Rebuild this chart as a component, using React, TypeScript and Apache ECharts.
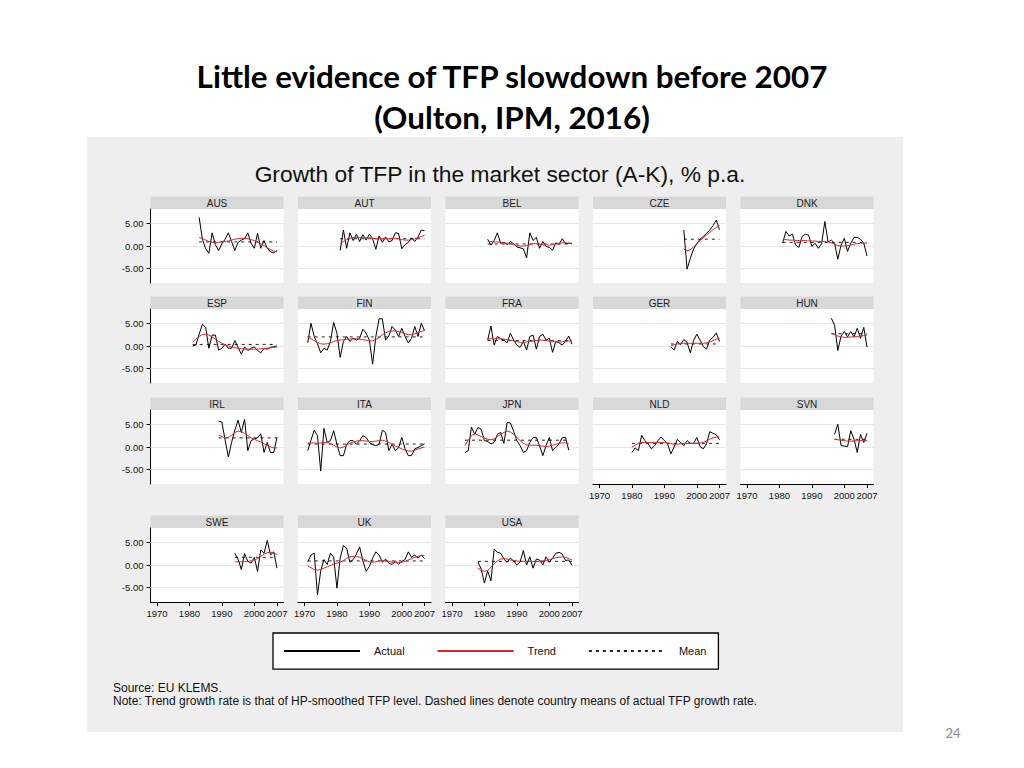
import React, { useEffect, useRef } from "react";
import * as echarts from "echarts";

// ---------- data ----------
const countries = ["AUS","AUT","BEL","CZE","DNK","ESP","FIN","FRA","GER","HUN","IRL","ITA","JPN","NLD","SVN","SWE","UK","USA"];
const firstYear = [1983,1981,1981,1996,1981,1981,1971,1981,1992,1996,1989,1971,1974,1980,1997,1994,1971,1978];
const meanGrowth = [0.9,1.6,0.45,1.5,0.8,0.35,2.0,1.2,0.45,2.7,2.0,0.65,1.5,0.8,1.7,1.7,0.9,0.8];

const actualAUS = [6.3,1.5,-0.6,-1.6,2.9,0.3,-1.0,0.5,1.5,2.9,1.0,-1.0,0.8,1.3,1.6,2.9,0.6,-0.5,2.8,-0.5,1.2,-0.5,-1.3,-1.5,-1.0];
const trendAUS = [1.9,1.6,1.3,1.0,0.8,0.7,0.8,0.9,1.0,1.1,1.3,1.5,1.6,1.7,1.7,1.6,1.4,1.2,0.9,0.5,0.1,-0.4,-0.8,-1.1,-1.3];
const actualAUT = [-1.0,3.5,-0.5,2.9,1.2,2.6,1.0,2.5,1.3,2.6,1.6,-0.7,2.2,0.8,2.0,0.9,1.2,2.9,2.8,-0.6,0.3,0.8,1.8,1.0,2.0,3.5,3.4];
const trendAUT = [0.5,1.0,1.4,1.7,1.9,1.9,1.9,1.8,1.8,1.8,1.7,1.6,1.6,1.6,1.6,1.6,1.7,1.7,1.6,1.4,1.3,1.3,1.4,1.6,1.8,2.1,2.3];
const actualBEL = [1.5,0.2,1.2,2.9,0.6,0.8,0.3,1.0,0.5,-0.2,-0.4,-0.6,-2.6,2.9,1.2,1.9,-0.5,1.0,-0.1,-0.3,-0.9,0.7,0.4,1.6,0.5,0.6,0.6];
const trendBEL = [1.0,1.0,0.9,0.9,0.8,0.7,0.6,0.5,0.3,0.1,0.0,0.0,0.1,0.3,0.5,0.5,0.4,0.3,0.2,0.2,0.3,0.4,0.6,0.7,0.7,0.6,0.5];
const actualCZE = [3.5,-5.1,-2.7,-0.7,0.5,1.5,2.1,2.8,3.5,4.5,5.7,3.6];
const trendCZE = [-0.7,-1.1,-0.8,-0.2,0.5,1.2,1.8,2.4,3.0,3.6,4.1,4.5];
const actualDNK = [0.7,3.2,2.2,2.6,0.2,-0.3,2.1,2.6,2.4,-0.1,0.6,-0.5,0.5,5.4,0.9,1.3,0.6,-2.9,0.2,1.7,-1.2,0.6,1.9,1.9,1.5,0.6,-2.2];
const trendDNK = [1.4,1.4,1.3,1.3,1.2,1.2,1.2,1.2,1.1,1.1,1.1,1.0,1.0,1.0,0.9,0.7,0.4,0.1,0.0,0.0,0.1,0.2,0.4,0.5,0.6,0.6,0.7];
const actualESP = [0.0,0.2,2.6,4.8,4.1,-0.5,2.4,2.4,-0.9,-0.5,0.4,-0.5,-0.5,1.2,-0.3,-1.8,-0.2,-1.0,-0.5,-0.2,-1.0,-1.5,-0.5,-0.7,-0.3,-0.2,0.0];
const trendESP = [0.9,1.5,2.1,2.5,2.6,2.4,2.0,1.5,1.0,0.6,0.3,0.0,-0.2,-0.4,-0.5,-0.6,-0.7,-0.7,-0.7,-0.7,-0.7,-0.6,-0.6,-0.5,-0.4,-0.3,-0.2];
const actualFIN = [0.7,5.0,2.1,0.5,-1.5,-0.5,-0.9,1.0,5.2,2.8,-2.5,1.0,2.1,1.0,1.7,1.3,1.7,3.7,2.8,1.3,-4.0,2.1,6.0,6.0,1.3,2.2,4.3,3.5,2.1,3.9,2.1,0.7,1.7,4.3,2.1,5.0,3.4];
const trendFIN = [2.0,1.6,1.2,0.8,0.5,0.4,0.5,0.7,1.0,1.2,1.3,1.4,1.5,1.5,1.6,1.6,1.5,1.4,1.3,1.1,1.1,1.4,1.9,2.5,2.9,3.2,3.3,3.3,3.2,3.0,2.7,2.5,2.5,2.7,3.0,3.2,3.4];
const actualFRA = [1.3,4.4,0.2,2.1,1.6,1.3,0.7,2.8,1.3,0.2,-0.3,1.0,-0.9,2.1,2.4,-0.7,2.1,2.6,1.3,1.7,-1.4,1.0,0.7,0.2,1.0,2.2,0.4];
const trendFRA = [1.5,1.6,1.6,1.6,1.6,1.5,1.4,1.3,1.1,1.0,0.8,0.8,0.9,1.0,1.1,1.2,1.3,1.3,1.2,1.1,1.0,0.9,0.9,0.9,1.0,1.1,1.1];
const actualGER = [-0.2,-0.9,1.0,0.3,1.4,0.8,-1.5,1.2,2.6,1.3,-0.1,-0.7,1.3,1.9,2.9,1.0];
const trendGER = [0.0,0.3,0.5,0.6,0.6,0.6,0.6,0.6,0.6,0.6,0.6,0.7,0.9,1.2,1.5,1.7];
const actualHUN = [6.1,4.6,-1.0,2.2,3.2,2.0,3.2,2.0,3.9,1.7,4.1,-0.3];
const trendHUN = [2.8,2.5,2.2,2.0,1.9,1.9,2.0,2.0,2.1,2.2,2.3,2.4];
const actualIRL = [5.7,5.5,1.5,-2.2,1.0,3.7,5.9,3.2,6.1,-0.8,1.4,1.8,2.0,2.9,-1.2,1.0,-1.2,-1.2,2.1];
const trendIRL = [2.6,2.3,2.0,2.1,2.6,3.2,3.5,3.4,3.0,2.5,2.0,1.7,1.4,1.1,0.7,0.3,0.0,-0.2,-0.2];
const actualITA = [-0.8,1.5,3.7,2.5,-5.3,4.1,1.0,1.4,3.6,0.6,-1.9,-1.9,0.6,1.4,1.4,0.6,1.4,2.5,2.1,1.0,0.5,0.3,0.6,3.7,3.2,-0.8,0.6,-0.8,-0.2,2.1,-0.4,-1.9,-1.9,-0.4,-0.1,0.3,0.7];
const trendITA = [0.9,0.9,0.9,0.8,0.9,1.0,1.0,0.8,0.4,0.0,-0.2,0.0,0.4,0.8,1.1,1.3,1.4,1.4,1.3,1.2,1.2,1.3,1.4,1.5,1.3,1.0,0.6,0.2,-0.1,-0.4,-0.7,-0.9,-0.9,-0.7,-0.4,-0.2,0.0];
const actualJPN = [-1.2,-0.8,4.4,2.8,4.3,3.9,1.4,1.2,0.7,1.0,2.8,3.2,0.8,5.4,5.3,3.5,1.4,0.3,-1.2,-0.8,1.0,2.1,2.1,0.3,-1.9,0.3,2.1,-0.8,-0.1,0.7,2.1,2.1,-0.7];
const trendJPN = [0.3,1.5,2.5,2.9,2.7,2.3,2.0,1.7,1.6,1.8,2.3,2.8,3.2,3.5,3.3,2.8,2.1,1.4,0.8,0.5,0.4,0.4,0.4,0.3,0.2,0.1,0.2,0.4,0.6,0.8,0.9,0.9,0.7];
const actualNLD = [-1.2,-0.2,-0.8,2.6,1.4,0.7,-0.4,0.3,1.4,2.2,1.4,0.7,-1.5,0.0,1.7,1.0,0.3,1.4,0.8,0.8,2.1,0.1,-0.4,0.7,3.4,3.0,2.7,1.6];
const trendNLD = [0.0,0.4,0.8,1.0,1.0,1.0,1.0,1.0,1.0,1.0,1.0,0.9,0.7,0.6,0.6,0.7,0.7,0.8,0.8,0.8,0.8,0.9,1.0,1.3,1.7,2.0,2.2,2.2];
const actualSVN = [2.8,5.0,0.3,0.2,0.1,3.6,1.7,-1.2,2.8,1.0,3.0];
const trendSVN = [1.7,1.6,1.5,1.4,1.3,1.3,1.3,1.4,1.4,1.4,1.4];
const actualSWE = [2.6,1.3,-1.0,2.5,0.8,0.4,1.7,-1.4,3.3,2.6,5.4,2.2,2.9,-0.7];
const trendSWE = [0.7,0.7,0.7,0.7,0.8,0.9,1.1,1.4,1.9,2.4,2.7,2.8,2.6,2.3];
const actualUK = [0.7,2.2,2.6,-6.6,-1.3,1.2,0.1,2.6,1.7,-5.1,1.5,4.3,3.7,0.6,1.2,2.4,4.0,0.9,-1.4,-0.3,1.5,2.9,2.2,0.6,1.3,0.4,0.1,0.9,0.2,0.8,1.2,2.9,1.7,2.2,1.5,2.2,1.4];
const trendUK = [-0.2,-0.6,-1.0,-1.1,-1.0,-0.7,-0.4,-0.1,0.2,0.4,0.6,1.0,1.5,1.8,1.9,1.9,1.7,1.4,1.0,0.7,0.6,0.7,0.9,1.0,0.9,0.8,0.6,0.5,0.5,0.6,0.8,1.1,1.4,1.7,1.9,2.1,2.1];
const actualUSA = [0.7,-0.9,-4.0,-1.3,-3.5,3.5,2.8,2.6,1.3,0.6,1.5,0.9,0.0,0.7,3.2,0.0,1.8,-0.7,1.3,1.1,0.0,1.8,0.6,1.5,2.6,2.8,2.4,1.0,1.1,-0.1];
const trendUSA = [-0.7,-1.2,-1.4,-1.2,-0.5,0.3,0.9,1.3,1.4,1.3,1.1,1.0,0.9,0.8,0.8,0.8,0.8,0.8,0.8,0.8,0.9,1.0,1.2,1.4,1.6,1.7,1.8,1.7,1.4,1.1];

const actualByCountry = [actualAUS,actualAUT,actualBEL,actualCZE,actualDNK,actualESP,actualFIN,actualFRA,actualGER,actualHUN,actualIRL,actualITA,actualJPN,actualNLD,actualSVN,actualSWE,actualUK,actualUSA];
const trendByCountry = [trendAUS,trendAUT,trendBEL,trendCZE,trendDNK,trendESP,trendFIN,trendFRA,trendGER,trendHUN,trendIRL,trendITA,trendJPN,trendNLD,trendSVN,trendSWE,trendUK,trendUSA];

const xTicks = [1970, 1980, 1990, 2000, 2007];
const yTicks = [-5, 0, 5];
const legendNames = ["Actual", "Trend", "Mean"];

// ---------- layout ----------
const COL_LEFT = [150.5, 298, 445.5, 593, 740.5];
const ROW_TOP = [209, 309, 410, 528];
const PLOT_W = 133;
const PLOT_H = 74;
const HEADER_H = 12.5;
const X_AXIS_PANELS = new Set(["NLD", "SVN", "SWE", "UK", "USA"]);
const RED = "#e1242a";
const SANS = "'Liberation Sans', Arial, sans-serif";
const TITLE_FONT = "Lato, 'Open Sans', sans-serif";

function buildOption() {
  const grid: any[] = [];
  const xAxis: any[] = [];
  const yAxis: any[] = [];
  const series: any[] = [];
  const graphic: any[] = [
    { type: "rect", z: -10, shape: { x: 87, y: 137, width: 816, height: 595 }, style: { fill: "#eeeeee" } },
    { type: "text", x: 512, y: 76, style: { text: "Little evidence of TFP slowdown before 2007", fontFamily: TITLE_FONT, fontWeight: "bold", fontSize: 31.4, fill: "#000", align: "center", verticalAlign: "middle" } },
    { type: "text", x: 512, y: 117, style: { text: "(Oulton, IPM, 2016)", fontFamily: TITLE_FONT, fontWeight: "bold", fontSize: 31.4, fill: "#000", align: "center", verticalAlign: "middle" } },
    { type: "text", x: 500, y: 174, style: { text: "Growth of TFP in the market sector (A-K), % p.a.", fontFamily: SANS, fontSize: 22.8, fill: "#111", align: "center", verticalAlign: "middle" } },
    { type: "text", x: 113, y: 688, style: { text: "Source: EU KLEMS.", fontFamily: SANS, fontSize: 12, fill: "#111", align: "left", verticalAlign: "middle" } },
    { type: "text", x: 113, y: 701, style: { text: "Note: Trend growth rate is that of HP-smoothed TFP level. Dashed lines denote country means of actual TFP growth rate.", fontFamily: SANS, fontSize: 12, fill: "#111", align: "left", verticalAlign: "middle" } },
    { type: "text", x: 953, y: 733, style: { text: "24", fontFamily: TITLE_FONT, fontSize: 13, fill: "#8a8a8a", align: "center", verticalAlign: "middle" } },
  ];

  countries.forEach((name, i) => {
    const row = Math.floor(i / 5);
    const col = i % 5;
    const left = COL_LEFT[col];
    const top = ROW_TOP[row];
    grid.push({ left, top, width: PLOT_W, height: PLOT_H, show: true, backgroundColor: "#ffffff", borderWidth: 0, containLabel: false });
    graphic.push({ type: "rect", shape: { x: left, y: top - HEADER_H, width: PLOT_W, height: HEADER_H }, style: { fill: "#d8d8d8" } });
    graphic.push({ type: "text", x: left + PLOT_W / 2, y: top - HEADER_H / 2 + 0.5, style: { text: name, fontFamily: SANS, fontSize: 10, fill: "#222", align: "center", verticalAlign: "middle" } });

    const showX = X_AXIS_PANELS.has(name);
    xAxis.push({
      type: "value", gridIndex: i, min: 1968, max: 2009,
      show: showX,
      axisLine: { show: true, onZero: false, lineStyle: { color: "#000", width: 1 } },
      axisTick: { show: true, length: 4, customValues: xTicks, lineStyle: { color: "#000" } },
      axisLabel: { show: true, customValues: xTicks, fontSize: 9.5, fontFamily: SANS, color: "#111", margin: 6, formatter: (v: number) => String(v) },
      splitLine: { show: false },
    });
    const showY = col === 0;
    yAxis.push({
      type: "value", gridIndex: i, min: -8.15, max: 8.15,
      show: showY,
      axisLine: { show: true, lineStyle: { color: "#000", width: 1 } },
      axisTick: { show: true, length: 4, customValues: yTicks, lineStyle: { color: "#000" } },
      axisLabel: { show: true, customValues: yTicks, fontSize: 9.5, fontFamily: SANS, color: "#111", margin: 7, formatter: (v: number) => v.toFixed(2) },
      splitLine: { show: false },
    });

    const start = firstYear[i];
    const actual = actualByCountry[i];
    const trend = trendByCountry[i];
    const end = start + actual.length - 1;
    series.push({
      name: "Mean", type: "line", xAxisIndex: i, yAxisIndex: i, symbol: "none", z: 2,
      data: [[start, meanGrowth[i]], [end, meanGrowth[i]]],
      lineStyle: { color: "#222", width: 1, type: [3, 4] },
      itemStyle: { color: "#222" },
      markLine: {
        silent: true, symbol: "none", label: { show: false }, z: 1,
        lineStyle: { color: "#e6e6e6", width: 1, type: "solid" },
        emphasis: { disabled: true },
        data: yTicks.map((v) => ({ yAxis: v })),
      },
    });
    series.push({
      name: "Actual", type: "line", xAxisIndex: i, yAxisIndex: i, symbol: "none", z: 3,
      data: actual.map((v, k) => [start + k, v]),
      lineStyle: { color: "#000", width: 1 },
      itemStyle: { color: "#000" },
    });
    series.push({
      name: "Trend", type: "line", xAxisIndex: i, yAxisIndex: i, symbol: "none", z: 4,
      data: trend.map((v, k) => [start + k, v]),
      lineStyle: { color: RED, width: 1 },
      itemStyle: { color: RED },
    });
  });

  return {
    animation: false,
    backgroundColor: "#ffffff",
    grid, xAxis, yAxis, series, graphic,
    legend: {
      left: 273, top: 633,
      padding: [12.5, 12, 12.5, 10],
      itemWidth: 76, itemHeight: 14, itemGap: 32,
      backgroundColor: "#ffffff", borderColor: "#000", borderWidth: 1.3,
      itemStyle: { opacity: 0 },
      selectedMode: false,
      textStyle: { fontSize: 11, fontFamily: SANS, color: "#111", padding: [0, 0, 0, 9] },
      data: legendNames,
    },
  };
}

export default function App() {
  const ref = useRef<HTMLDivElement>(null);
  useEffect(() => {
    if (!ref.current) return;
    const chart = echarts.init(ref.current, undefined, { renderer: "svg" });
    chart.setOption(buildOption() as any);
    return () => chart.dispose();
  }, []);
  return <div ref={ref} style={{ position: "absolute", left: 0, top: 0, width: 1024, height: 768 }} />;
}
